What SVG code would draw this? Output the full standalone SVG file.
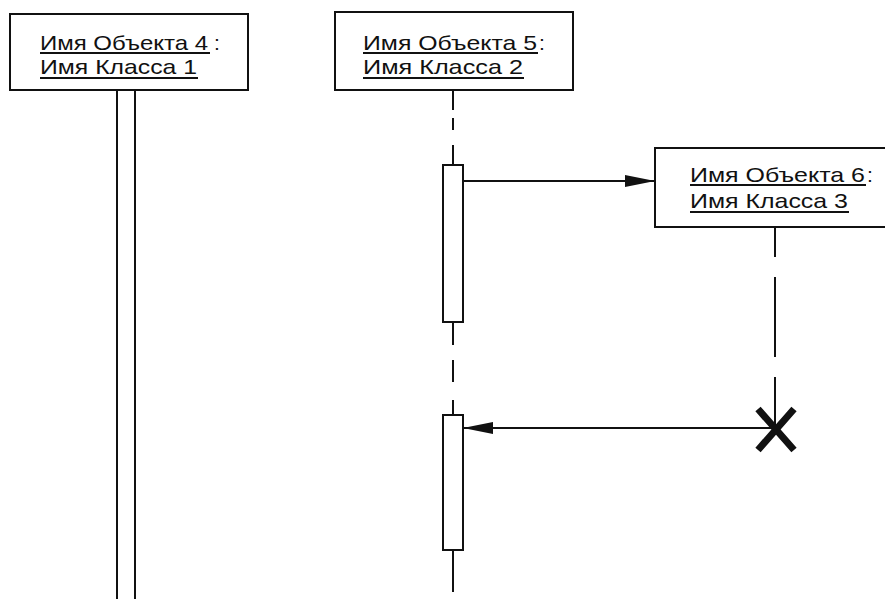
<svg xmlns="http://www.w3.org/2000/svg" width="885" height="599" viewBox="0 0 885 599">
<defs>
<style>
.box{fill:#fff;stroke:#111;stroke-width:2}
.lbl{font-family:"Liberation Sans",Arial,sans-serif;font-size:21px;fill:#111}
.ul{stroke:#111;stroke-width:1.8}
.life{stroke:#111;stroke-width:2;fill:none}
.bar{fill:#fff;stroke:#111;stroke-width:2}
.msg{stroke:#111;stroke-width:2;fill:none}
</style>
<marker id="ah" viewBox="0 0 30 14" refX="30" refY="7" markerWidth="30" markerHeight="14" markerUnits="userSpaceOnUse" orient="auto">
<path d="M0,1 L30,7 L0,13 Z" fill="#111"/>
</marker>
</defs>
<rect width="885" height="599" fill="#fff"/>

<g id="lifelines">
<line class="life" x1="117" y1="90" x2="117" y2="599"/>
<line class="life" x1="135" y1="90" x2="135" y2="599"/>
<path class="life" d="M453,90 V110 M453,118 V130 M453,145 V165 M453,322 V345 M453,360 V382 M453,400 V415 M453,550 V592"/>
<path class="life" d="M775,227 V257 M775,277 V357 M775,377 V428"/>
</g>

<g id="obj4">
<rect class="box" x="10" y="14" width="238" height="76"/>
<text class="lbl" y="50"><tspan x="40" textLength="168" lengthAdjust="spacingAndGlyphs">Имя Объекта 4</tspan><tspan x="214">:</tspan></text>
<line class="ul" x1="40" y1="53" x2="210" y2="53"/>
<text class="lbl" y="74"><tspan x="40" textLength="157" lengthAdjust="spacingAndGlyphs">Имя Класса 1</tspan></text>
<line class="ul" x1="40" y1="78" x2="198" y2="78"/>
</g>

<g id="obj5">
<rect class="box" x="335" y="12" width="238" height="78"/>
<text class="lbl" y="50"><tspan x="363" textLength="174" lengthAdjust="spacingAndGlyphs">Имя Объекта 5</tspan><tspan x="539">:</tspan></text>
<line class="ul" x1="363" y1="53" x2="538" y2="53"/>
<text class="lbl" y="74"><tspan x="363" textLength="160" lengthAdjust="spacingAndGlyphs">Имя Класса 2</tspan></text>
<line class="ul" x1="363" y1="78" x2="524" y2="78"/>
</g>

<g id="obj6">
<rect class="box" x="655" y="148" width="240" height="79"/>
<text class="lbl" y="182"><tspan x="690" textLength="175" lengthAdjust="spacingAndGlyphs">Имя Объекта 6</tspan><tspan x="867">:</tspan></text>
<line class="ul" x1="690" y1="185" x2="866" y2="185"/>
<text class="lbl" y="208"><tspan x="690" textLength="158" lengthAdjust="spacingAndGlyphs">Имя Класса 3</tspan></text>
<line class="ul" x1="690" y1="212" x2="849" y2="212"/>
</g>

<g id="activations">
<rect class="bar" x="443" y="165" width="20" height="157"/>
<rect class="bar" x="443" y="415" width="20" height="135"/>
</g>

<g id="destroy">
<path d="M758,409 L794,450 M794,409 L758,450" stroke="#111" stroke-width="7" fill="none"/>
</g>

<g id="connectors">
<line class="msg" x1="463" y1="181" x2="655" y2="181" marker-end="url(#ah)"/>
<line class="msg" x1="775" y1="428" x2="463" y2="428" marker-end="url(#ah)"/>
</g>
</svg>
